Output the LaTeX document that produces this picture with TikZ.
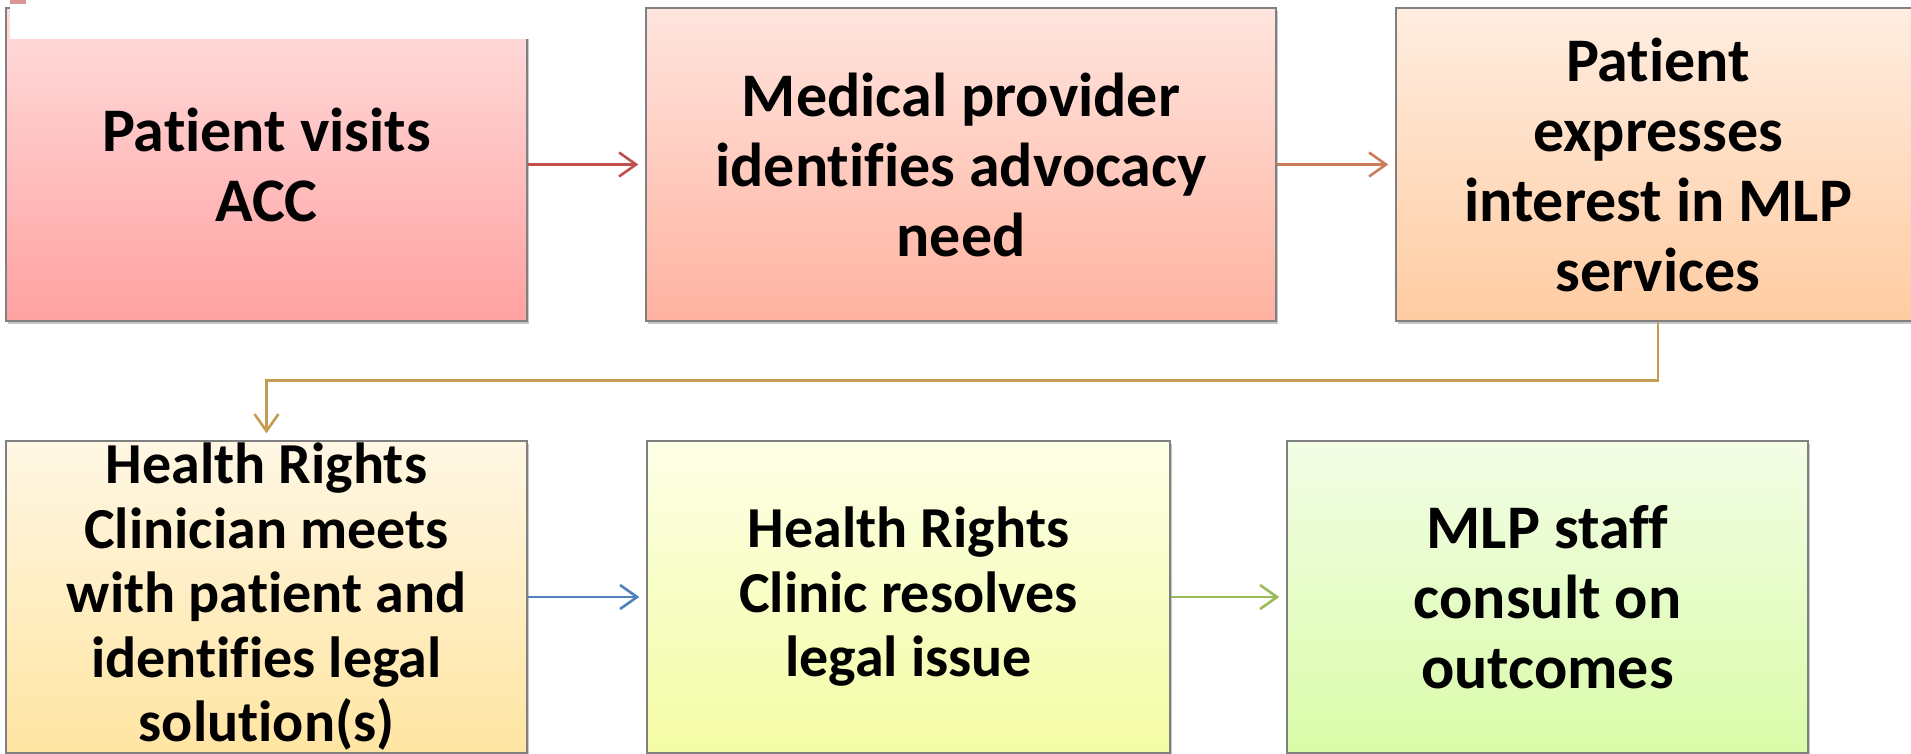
\documentclass[tikz,border=0pt]{standalone}
\usepackage{fontspec}
\setmainfont{Carlito}[Ligatures=NoCommon]
\usetikzlibrary{arrows.meta,shadows}

\definecolor{boxline}{RGB}{128,128,128}
\definecolor{arrowred}{RGB}{192,80,77}
\definecolor{arrowrust}{RGB}{203,122,90}
\definecolor{arrowgold}{RGB}{196,156,82}
\definecolor{arrowblue}{RGB}{79,129,189}
\definecolor{arrowgreen}{RGB}{155,187,89}

\newcommand{\bigboxfont}{\fontsize{62}{70}\selectfont\bfseries}
\newcommand{\smallboxfont}{\fontsize{58}{64.5}\selectfont\bfseries}

\tikzset{
  procbox/.style={rectangle, draw=boxline, line width=1.4pt, align=center, inner sep=0pt,
    font=\bigboxfont, shading angle=0,
    drop shadow={shadow xshift=2pt, shadow yshift=-3pt, fill=black, opacity=0.22}},
  flowarrow/.style={-{Straight Barb[length=17pt,width=24pt,line width=2.6pt]},
    line width=2.6pt, shorten >=7pt},
}

\begin{document}
\begin{tikzpicture}[x=1pt,y=-1pt]
\useasboundingbox (0,0) rectangle (1911,753);
\clip (0,0) rectangle (1911,753);

% top row
\node[procbox, top color={rgb,255:red,255;green,221;blue,221}, bottom color={rgb,255:red,255;green,161;blue,161},
  minimum width=521pt, minimum height=313pt] (visit) at (266.5,164.5) {Patient visits\\ACC};
\node[procbox, top color={rgb,255:red,255;green,229;blue,222}, bottom color={rgb,255:red,255;green,178;blue,160},
  minimum width=630pt, minimum height=313pt] (need) at (961,164.5) {Medical provider\\identifies advocacy\\need};
\node[procbox, top color={rgb,255:red,255;green,237;blue,224}, bottom color={rgb,255:red,255;green,204;blue,162},
  minimum width=524pt, minimum height=313pt] (interest) at (1658,164.5) {Patient\\expresses\\interest in MLP\\services};

% bottom row
\node[procbox, font=\smallboxfont, top color={rgb,255:red,255;green,247;blue,228}, bottom color={rgb,255:red,255;green,229;blue,162},
  minimum width=521pt, minimum height=312pt] (meets) at (266.5,597) {Health Rights\\Clinician meets\\with patient and\\identifies legal\\solution(s)};
\node[procbox, font=\smallboxfont, top color={rgb,255:red,253;green,255;blue,230}, bottom color={rgb,255:red,243;green,252;blue,164},
  minimum width=523pt, minimum height=312pt] (resolve) at (908.5,597) {Health Rights\\Clinic resolves\\legal issue};
\node[procbox, top color={rgb,255:red,243;green,253;blue,230}, bottom color={rgb,255:red,217;green,252;blue,168},
  minimum width=521pt, minimum height=312pt] (consult) at (1547.5,597) {MLP staff\\consult on\\outcomes};

% white strip over the top of the first box
\fill[white] (9.5,0) rectangle (531,39);
\fill[arrowred!60] (10,0) rectangle (26,4);

\draw[flowarrow, arrowred] (visit.east) to (need.west);
\draw[flowarrow, arrowrust] (need.east) to (interest.west);
\draw[flowarrow, arrowgold] (interest.south) -- ++(0,59) -| (meets.north);
\draw[flowarrow, arrowblue] (meets.east) to (resolve.west);
\draw[flowarrow, arrowgreen] (resolve.east) to (consult.west);

\end{tikzpicture}
\end{document}
